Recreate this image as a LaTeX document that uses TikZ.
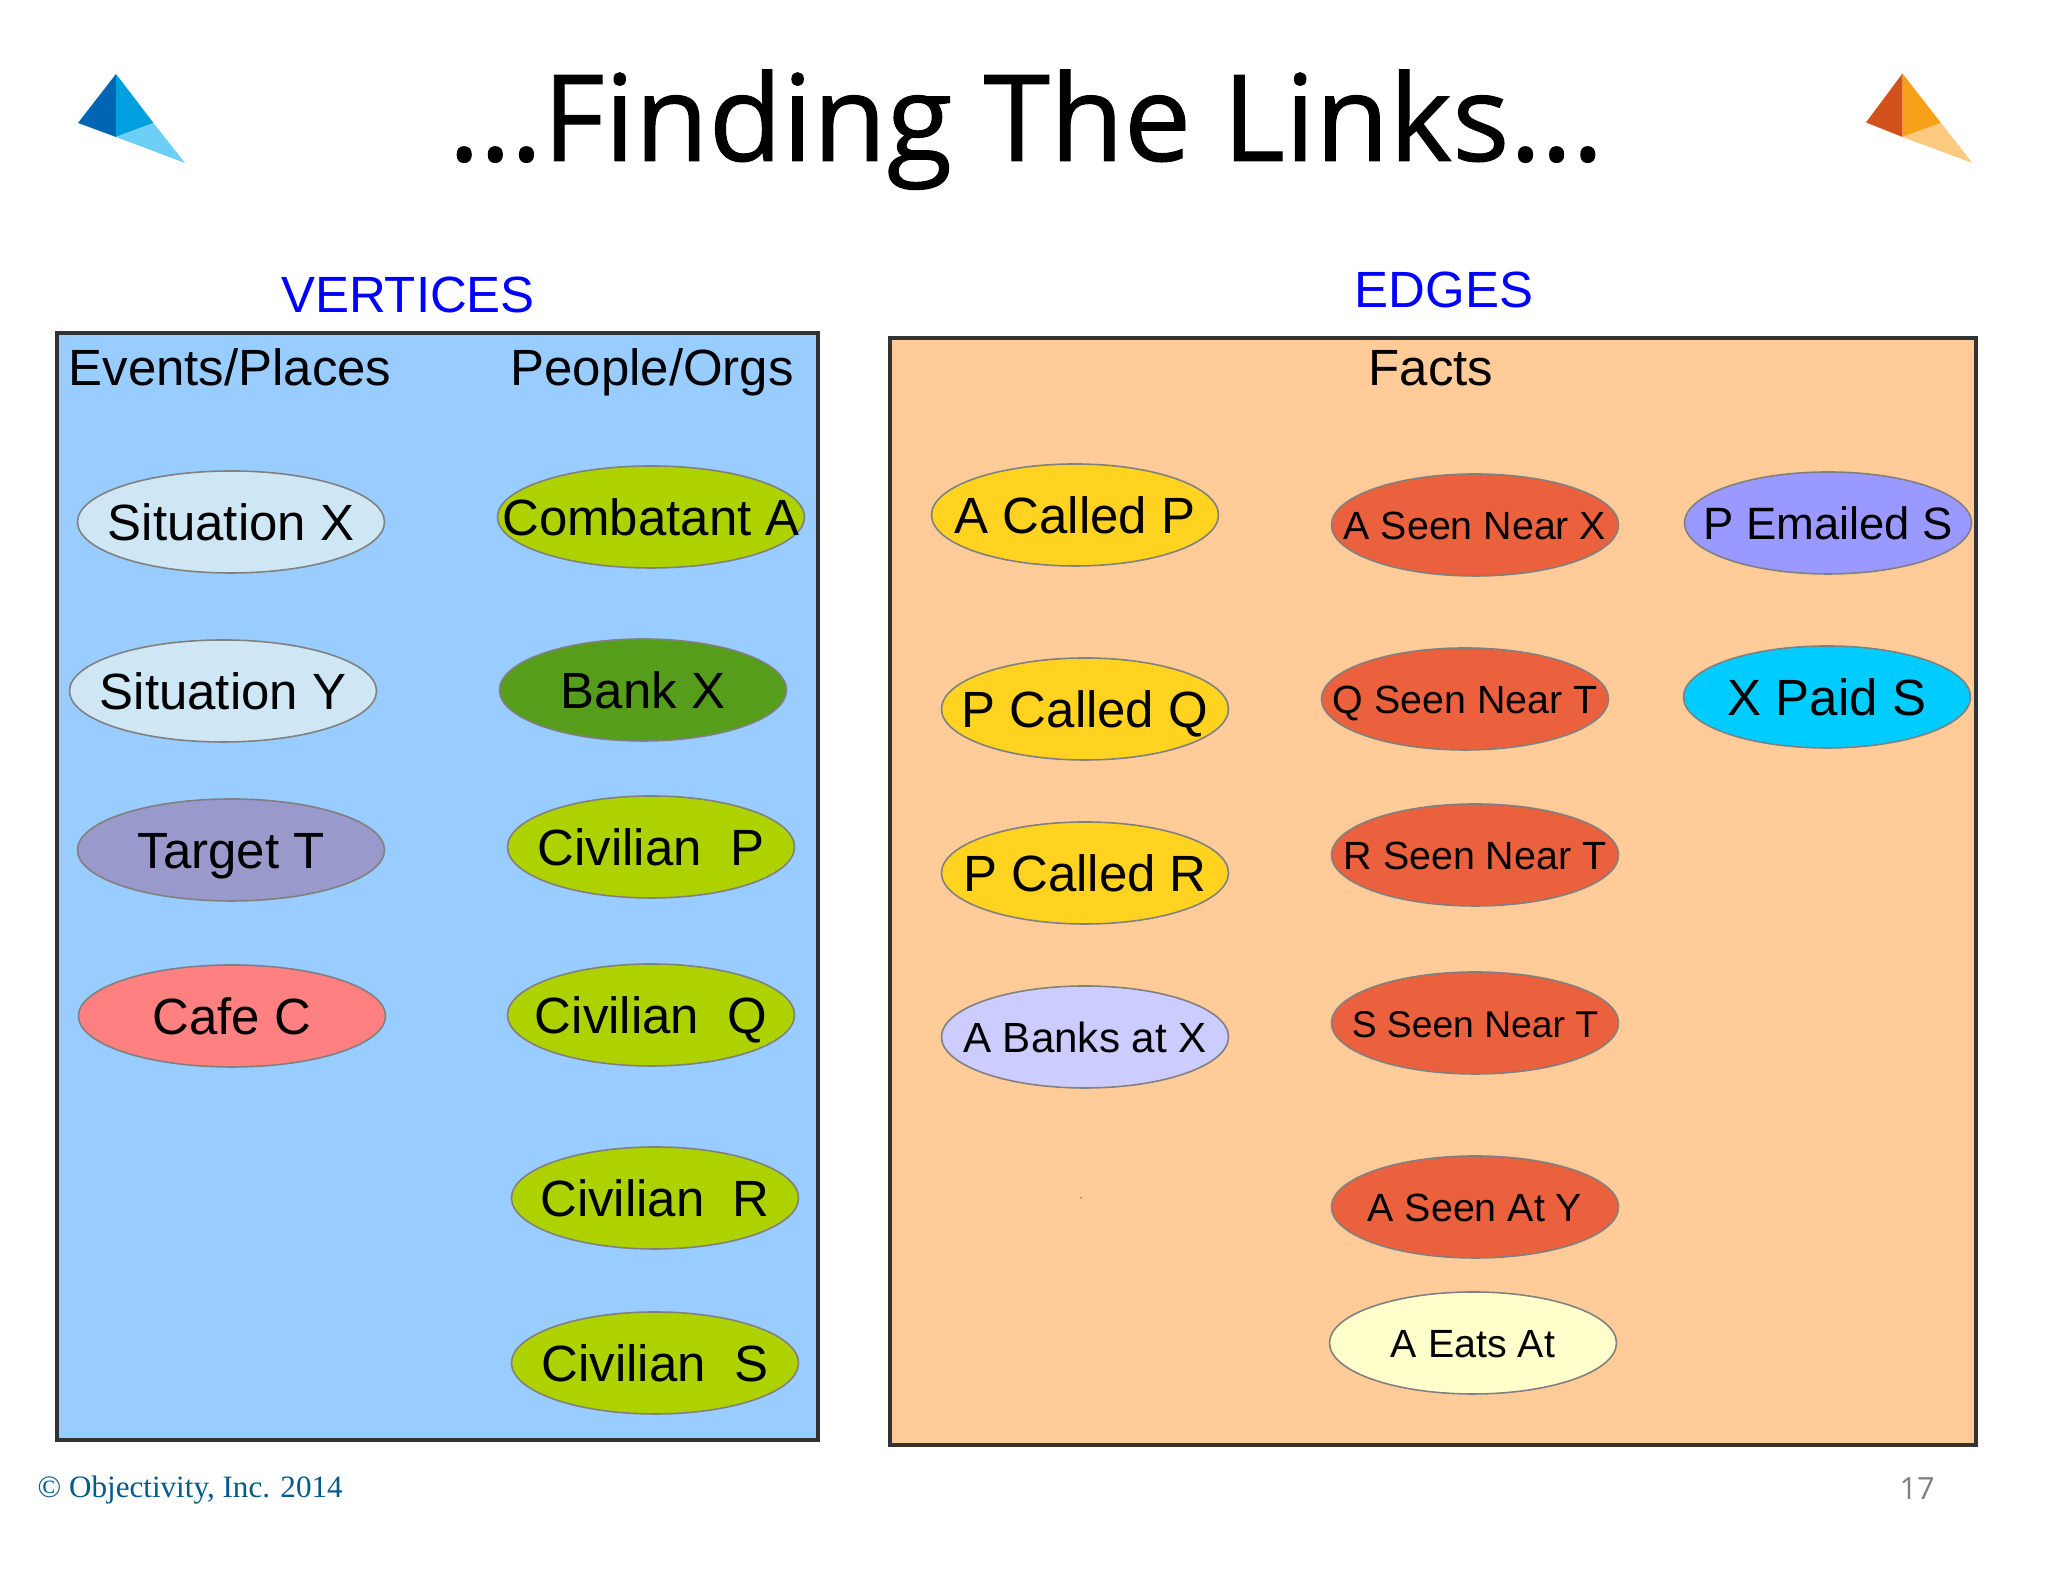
\documentclass[tikz,border=0pt]{standalone}
\usepackage{fontspec}
\setmainfont{Liberation Sans}
\newfontfamily\titlefont{Open Sans}
\newfontface\titleface{Open Sans}[FakeBold=0.8]
\newfontfamily\footfont{Liberation Serif}
\usepackage{tkz-graph}
\usetikzlibrary{shapes.geometric}

\definecolor{panelblue}{HTML}{99CCFF}
\definecolor{panelorange}{HTML}{FFCC99}
\definecolor{panelline}{HTML}{333333}
\definecolor{ovalline}{HTML}{808080}
\definecolor{paleblue}{HTML}{CFE7F5}
\definecolor{targetblue}{HTML}{9999CC}
\definecolor{cafered}{HTML}{FF8080}
\definecolor{civgreen}{HTML}{AED100}
\definecolor{bankgreen}{HTML}{579D1C}
\definecolor{callyellow}{HTML}{FFD320}
\definecolor{banklilac}{HTML}{CCCCFF}
\definecolor{seenred}{HTML}{EB613D}
\definecolor{mailblue}{HTML}{9999FF}
\definecolor{paidcyan}{HTML}{00CCFF}
\definecolor{eatcream}{HTML}{FFFFCC}
\definecolor{footblue}{HTML}{005A8C}
\definecolor{logoA}{RGB}{0,102,179}
\definecolor{logoB}{RGB}{0,160,224}
\definecolor{logoC}{RGB}{110,207,246}
\definecolor{logoD}{RGB}{210,82,30}
\definecolor{logoE}{RGB}{247,161,26}
\definecolor{logoF}{RGB}{251,201,127}

\newcommand{\bigtext}{\fontsize{14.5}{17}\selectfont}
\newcommand{\smalltext}{\fontsize{11.2}{14}\selectfont}
\newcommand{\flatlabel}[1]{\makebox[0pt]{#1}}

\begin{document}
\begin{tikzpicture}
                \useasboundingbox (0,0) rectangle (20.48,15.82);
                \tikzset{
                  panel/.style={draw=panelline,line width=1.4pt},
                  heading/.style={font=\bigtext,text height=10.4pt,text depth=0pt,inner sep=0pt},
                }

                \fill[white] (0,0) rectangle (20.48,15.82);

                % logos
                \fill[logoA] (1.16,15.08) -- (0.78,14.59) -- (1.16,14.45) -- cycle;
                \fill[logoB] (1.16,15.08) -- (1.535,14.59) -- (1.16,14.45) -- cycle;
                \fill[logoC] (1.535,14.59) -- (1.85,14.19) -- (1.16,14.45) -- cycle;
                \fill[logoD] (19.025,15.085) -- (18.66,14.595) -- (19.025,14.45) -- cycle;
                \fill[logoE] (19.025,15.085) -- (19.41,14.59) -- (19.025,14.45) -- cycle;
                \fill[logoF] (19.41,14.59) -- (19.724,14.19) -- (19.025,14.45) -- cycle;

                \node[font=\titleface\fontsize{34.2}{40}\selectfont,text height=24.4pt,text depth=0pt,inner sep=0pt] (title) at (10.26,14.64) {…Finding The Links…};

                % panels
                \draw[panel,fill=panelblue] (0.57,12.49) rectangle (8.18,1.42);
                \draw[panel,fill=panelorange] (8.90,12.44) rectangle (19.76,1.37);

                \node[heading,text=blue] (vertices) at (4.08,12.88) {VERTICES};
                \node[heading,text=blue] (edges) at (14.44,12.93) {EDGES};
                \node[heading] (events) at (2.30,12.15) {Events/Places};
                \node[heading] (people) at (6.52,12.15) {People/Orgs};
                \node[heading] (facts) at (14.31,12.15) {Facts};

                \SetVertexNormal[Shape = ellipse, FillColor = white, LineColor = ovalline, LineWidth = 0.4pt]
                \GraphInit[vstyle=Normal]
                \tikzset{VertexStyle/.append style={shape=ellipse,draw=ovalline,line width=0.45pt,minimum width=3.07cm,minimum height=1.02cm,inner sep=0pt,text=black,font=\bigtext,text height=10.4pt,text depth=0pt}}

                % events and places
                \tikzset{VertexStyle/.append style={fill=paleblue}}
                \Vertex[x=2.31 ,y=10.60,L={\flatlabel{Situation X}}]{sitx}
                \Vertex[x=2.23 ,y=8.91,L={\flatlabel{Situation Y}}]{sity}

                \tikzset{VertexStyle/.append style={fill=targetblue}}
                \Vertex[x=2.31 ,y=7.32,L={\flatlabel{Target T}}]{targett}

                \tikzset{VertexStyle/.append style={fill=cafered}}
                \Vertex[x=2.32 ,y=5.66,L={\flatlabel{Cafe C}}]{cafec}

                % people and orgs
                \tikzset{VertexStyle/.append style={fill=civgreen}}
                \Vertex[x=6.51 ,y=10.65,L={\flatlabel{Combatant A}}]{comba}

                \tikzset{VertexStyle/.append style={fill=bankgreen,minimum width=2.87cm}}
                \Vertex[x=6.43 ,y=8.92,L={\flatlabel{Bank X}}]{bankx}

                \tikzset{VertexStyle/.append style={fill=civgreen}}
                \Vertex[x=6.51 ,y=7.35,L={\flatlabel{Civilian\ \ P}}]{civp}
                \Vertex[x=6.51 ,y=5.67,L={\flatlabel{Civilian\ \ Q}}]{civq}
                \Vertex[x=6.55 ,y=3.84,L={\flatlabel{Civilian\ \ R}}]{civr}
                \Vertex[x=6.55 ,y=2.19,L={\flatlabel{Civilian\ \ S}}]{civs}

                % facts
                \tikzset{VertexStyle/.append style={fill=callyellow}}
                \Vertex[x=10.75 ,y=10.67,L={\flatlabel{A Called P}}]{acallp}
                \Vertex[x=10.85 ,y=8.73,L={\flatlabel{P Called Q}}]{pcallq}
                \Vertex[x=10.85 ,y=7.09,L={\flatlabel{P Called R}}]{pcallr}

                \tikzset{VertexStyle/.append style={fill=banklilac,font=\fontsize{12}{14}\selectfont,text height=8.6pt}}
                \Vertex[x=10.85 ,y=5.45,L={\flatlabel{A Banks at X}}]{abankx}

                \tikzset{VertexStyle/.append style={fill=seenred,font=\smalltext,text height=8pt}}
                \Vertex[x=14.75 ,y=10.57,L={\flatlabel{A Seen Near X}}]{aseenx}
                \Vertex[x=14.65 ,y=8.83,L={\flatlabel{Q Seen Near T}}]{qseent}
                \Vertex[x=14.75 ,y=7.27,L={\flatlabel{R Seen Near T}}]{rseent}
                \Vertex[x=14.75 ,y=5.59,L={\flatlabel{\fontsize{10.6}{13}\selectfont S Seen Near T}}]{sseent}
                \Vertex[x=14.75 ,y=3.75,L={\flatlabel{A Seen At Y}}]{aseeny}

                \tikzset{VertexStyle/.append style={fill=eatcream}}
                \Vertex[x=14.73 ,y=2.39,L={\flatlabel{A Eats At}}]{aeats}

                \tikzset{VertexStyle/.append style={fill=mailblue,font=\fontsize{12.9}{15}\selectfont,text height=9.3pt}}
                \Vertex[x=18.28 ,y=10.59,L={\flatlabel{P Emailed S}}]{pmails}

                \tikzset{VertexStyle/.append style={fill=paidcyan,font=\bigtext,text height=10.4pt}}
                \Vertex[x=18.27 ,y=8.85,L={\flatlabel{X Paid S}}]{xpaids}

                \fill[seenred] (10.81,3.84) circle (0.01);

                % footer
                \node[font=\footfont\fontsize{8.85}{10}\selectfont,text=footblue,anchor=west,inner sep=0pt] (copyright) at (0.37,0.92) {© Objectivity, Inc. 2014};
                \node[font=\titlefont\fontsize{8.7}{10}\selectfont,text=ovalline,inner sep=0pt] (pagenum) at (19.17,0.93) {17};
\end{tikzpicture}
\end{document}
